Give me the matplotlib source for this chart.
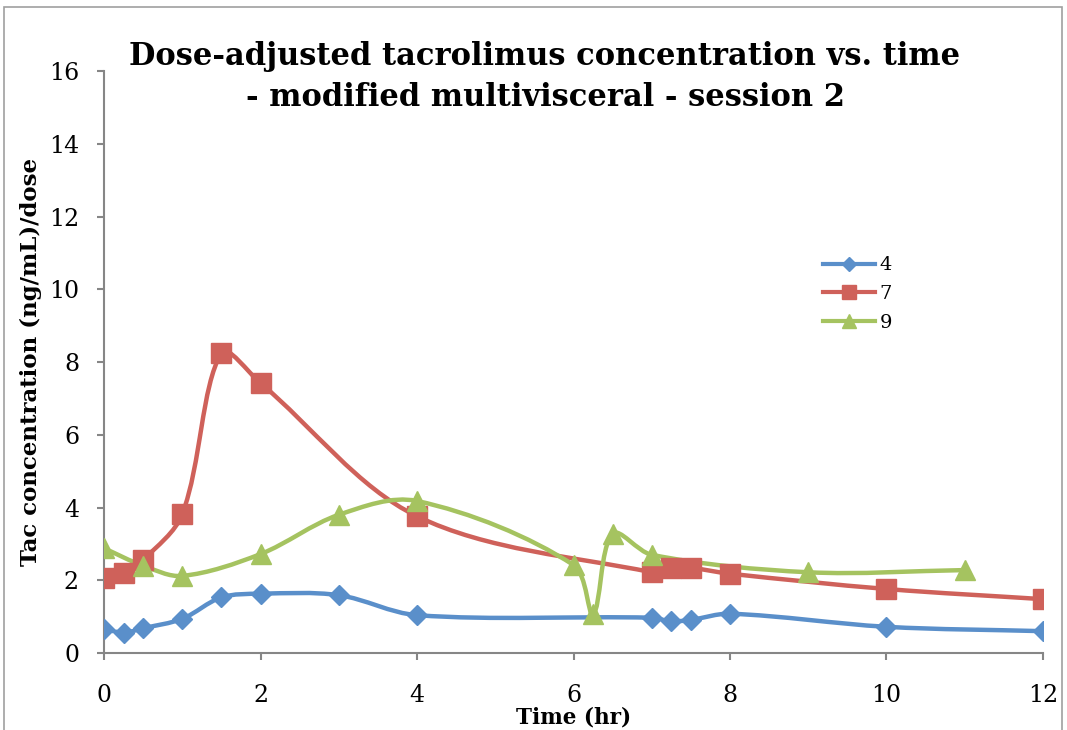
import matplotlib
matplotlib.use("Agg")
import math
import matplotlib.pyplot as plt
from matplotlib.path import Path
from matplotlib.patches import PathPatch, Rectangle
from matplotlib.lines import Line2D

# ── Data ──────────────────────────────────────────────────────────────────────
t_4 = [0, 0.25, 0.5, 1, 1.5, 2, 3, 4, 7, 7.25, 7.5, 8, 10, 12]
c_4 = [0.66, 0.56, 0.68, 0.94, 1.53, 1.63, 1.59, 1.04, 0.97, 0.87, 0.91, 1.08, 0.72, 0.6]

t_7 = [0, 0.25, 0.5, 1, 1.5, 2, 4, 7, 7.25, 7.5, 8, 10, 12]
c_7 = [2.06, 2.2, 2.56, 3.82, 8.25, 7.42, 3.76, 2.22, 2.34, 2.34, 2.18, 1.76, 1.48]

t_9 = [0, 0.5, 1, 2, 3, 4, 6, 6.25, 6.5, 7, 9, 11]
c_9 = [2.88, 2.4, 2.12, 2.72, 3.8, 4.18, 2.42, 1.06, 3.28, 2.7, 2.22, 2.28]

series = [("4", t_4, c_4, "#5A8FCA", "D", 10.5),
          ("7", t_7, c_7, "#CF615A", "s", 15),
          ("9", t_9, c_9, "#A5C360", "^", 15)]

SERIF = "DejaVu Serif"
AXIS_GREY = "#868686"
PX_X = 939 / 12   # pixels per hour, used only to weight the smoothing
PX_Y = 582 / 16


def smooth_path(xs, ys):
    """Smoothed line like Excel's: cubic Bezier through every point,
    tangents weighted by the on-screen length of the neighbouring segments."""
    pts = list(zip(xs, ys))
    n = len(pts)

    def seglen(a, b):
        return math.hypot((b[0] - a[0]) * PX_X, (b[1] - a[1]) * PX_Y)

    out_c, in_c = [], []
    for i in range(n):
        p0 = pts[max(i - 1, 0)]
        p1 = pts[i]
        p2 = pts[min(i + 1, n - 1)]
        tx, ty = p2[0] - p0[0], p2[1] - p0[1]
        l01, l12 = seglen(p0, p1), seglen(p1, p2)
        tot = (l01 + l12) or 1.0
        wo, wi = l12 / tot / 3, l01 / tot / 3
        out_c.append((p1[0] + tx * wo, p1[1] + ty * wo))
        in_c.append((p1[0] - tx * wi, p1[1] - ty * wi))

    verts = [pts[0]]
    codes = [Path.MOVETO]
    for i in range(n - 1):
        verts += [out_c[i], in_c[i + 1], pts[i + 1]]
        codes += [Path.CURVE4] * 3
    return Path(verts, codes)


fig = plt.figure(figsize=(10.67, 7.3), dpi=100)
ax = fig.add_axes([0.0975, 0.1055, 0.88, 0.797])

handles = []
for name, xs, ys, color, marker, ms in series:
    ax.add_patch(PathPatch(smooth_path(xs, ys), facecolor="none",
                           edgecolor=color, lw=3.2, capstyle="round",
                           joinstyle="round", zorder=2))
    ax.plot(xs, ys, linestyle="none", marker=marker, ms=ms,
            color=color, mec=color, zorder=3)
    handles.append(Line2D([], [], color=color, lw=3, marker=marker,
                          ms=ms * 0.65, mec=color, label=name))

ax.set_xlim(0, 12)
ax.set_ylim(0, 16)
ax.set_xticks(range(0, 13, 2))
ax.set_yticks(range(0, 17, 2))
for s in ["top", "right"]:
    ax.spines[s].set_visible(False)
for s in ["left", "bottom"]:
    ax.spines[s].set_color(AXIS_GREY)
    ax.spines[s].set_linewidth(1.5)
ax.tick_params(direction="out", length=5, width=1.5, color=AXIS_GREY,
               labelsize=17)
ax.tick_params(axis="x", pad=17)
ax.tick_params(axis="y", pad=13)
for lbl in ax.get_xticklabels() + ax.get_yticklabels():
    lbl.set_fontfamily(SERIF)

ax.set_xlabel("Time (hr)", fontsize=15.5, fontweight="bold", family=SERIF)
ax.xaxis.set_label_coords(0.5, -0.092)
ax.set_ylabel("Tac concentration (ng/mL)/dose", fontsize=16.5,
              fontweight="bold", family=SERIF)
ax.yaxis.set_label_coords(-0.066, 0.5)

fig.text(545 / 1067, 1 - 77 / 730,
         "Dose-adjusted tacrolimus concentration vs. time\n"
         "- modified multivisceral - session 2",
         ha="center", va="center", fontsize=22, fontweight="bold",
         family=SERIF, linespacing=1.4)

ax.legend(handles=handles, loc="upper left",
          bbox_to_anchor=(805 / 1067, 1 - 239 / 730),
          bbox_transform=fig.transFigure, frameon=False,
          prop={"family": SERIF, "size": 14}, handlelength=2.7,
          handletextpad=0.25, labelspacing=0.55)

# outer chart frame
fig.patches.append(Rectangle((4 / 1067, -0.05), 1058 / 1067, 1.05 - 7 / 730,
                             transform=fig.transFigure, fill=False,
                             edgecolor="#A0A0A0", lw=1.2))

fig.savefig("out.png", dpi=100)
